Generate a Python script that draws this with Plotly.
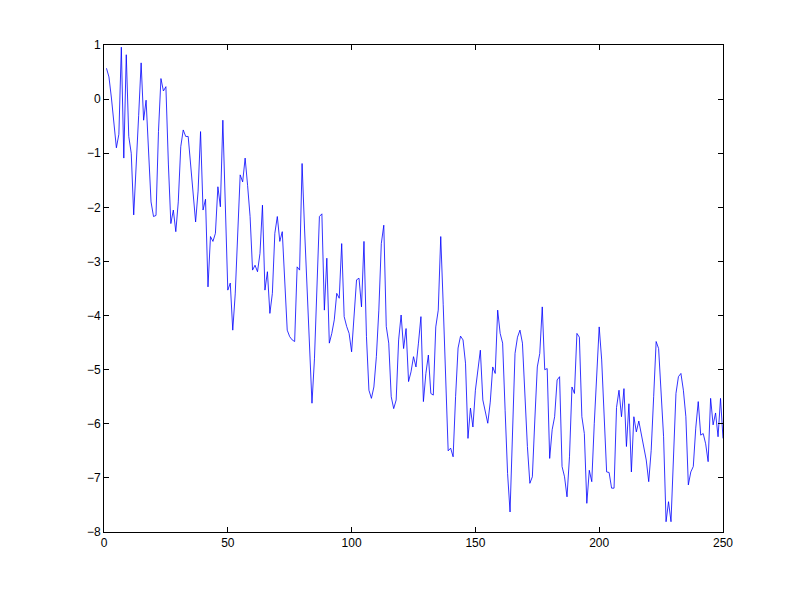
import plotly.graph_objects as go

x_values = list(range(1, 251))
y_values = [
    0.57, 0.41, 0.02, -0.44, -0.9, -0.65, 0.96, -1.09, 0.82, -0.69,
    -1.0, -2.14, -1.3, -0.3, 0.67, -0.39, -0.02, -1.0, -1.9, -2.17,
    -2.15, -0.6, 0.38, 0.15, 0.23, -1.2, -2.3, -2.05, -2.45, -1.9,
    -0.88, -0.57, -0.69, -0.69, -1.25, -1.8, -2.27, -1.7, -0.6, -2.05,
    -1.85, -3.47, -2.54, -2.63, -2.48, -1.62, -1.99, -0.39, -1.9, -3.53,
    -3.4, -4.27, -3.6, -2.4, -1.4, -1.53, -1.09, -1.6, -2.17, -3.16,
    -3.07, -3.19, -2.85, -1.96, -3.53, -3.19, -3.96, -3.59, -2.48, -2.17,
    -2.63, -2.45, -3.4, -4.27, -4.39, -4.45, -4.48, -3.1, -3.16, -1.19,
    -2.4, -3.4, -4.64, -5.62, -4.8, -3.3, -2.17, -2.12, -3.9, -2.94,
    -4.51, -4.33, -4.08, -3.59, -3.68, -2.67, -4.02, -4.2, -4.33, -4.67,
    -4.02, -3.34, -3.31, -3.84, -2.63, -4.39, -5.38, -5.53, -5.32, -4.76,
    -3.9, -2.67, -2.33, -4.2, -4.51, -5.5, -5.72, -5.56, -4.45, -3.99,
    -4.61, -4.24, -5.22, -5.04, -4.76, -4.95, -4.51, -4.02, -5.59, -5.07,
    -4.73, -5.44, -5.47, -4.21, -3.9, -2.54, -3.8, -5.0, -6.5, -6.45,
    -6.61, -5.5, -4.6, -4.38, -4.45, -4.88, -6.27, -5.71, -6.06, -5.38,
    -4.98, -4.64, -5.56, -5.81, -5.99, -5.6, -4.95, -5.07, -3.9, -4.33,
    -4.51, -5.75, -6.92, -7.63, -6.0, -4.7, -4.4, -4.27, -4.51, -5.5,
    -6.42, -7.1, -6.98, -5.93, -4.95, -4.7, -3.84, -5.0, -4.98, -6.64,
    -6.11, -5.87, -5.19, -5.13, -6.79, -6.98, -7.35, -6.61, -5.32, -5.44,
    -4.33, -4.4, -5.87, -6.18, -7.47, -6.86, -7.07, -6.0, -5.19, -4.21,
    -4.82, -5.87, -6.89, -6.9, -7.19, -7.19, -5.7, -5.38, -5.87, -5.35,
    -6.42, -5.63, -6.89, -5.87, -6.15, -5.95, -6.2, -6.4, -6.67, -7.07,
    -6.49, -5.5, -4.48, -4.61, -5.32, -6.24, -7.81, -7.44, -7.81, -6.67,
    -5.44, -5.13, -5.07, -5.38, -5.87, -7.13, -6.89, -6.79, -6.08, -5.59,
    -6.21, -6.18, -6.37, -6.7, -5.53, -6.02, -5.8, -6.24, -5.53, -6.27,
]

x_ticks = [0, 50, 100, 150, 200, 250]
y_ticks = [-8, -7, -6, -5, -4, -3, -2, -1, 0, 1]

fig = go.Figure()
fig.add_trace(go.Scatter(
    x=x_values, y=y_values, mode="lines",
    line=dict(color="#0000ff", width=0.8),
    hoverinfo="skip",
))

axis_common = dict(
    showline=True, linecolor="black", linewidth=1, mirror="ticks",
    ticks="inside", ticklen=5, tickcolor="black", tickwidth=1,
    showgrid=False, zeroline=False,
    tickfont=dict(family="Liberation Sans, Arial, sans-serif", size=12, color="black"),
)

fig.update_layout(
    width=799, height=599,
    margin=dict(l=96, r=84, t=37, b=75),
    paper_bgcolor="white", plot_bgcolor="white",
    showlegend=False,
    xaxis=dict(range=[0, 250], tickvals=x_ticks, **axis_common),
    yaxis=dict(range=[-8, 1], tickvals=y_ticks, **axis_common),
)

fig.write_html("out.html")
